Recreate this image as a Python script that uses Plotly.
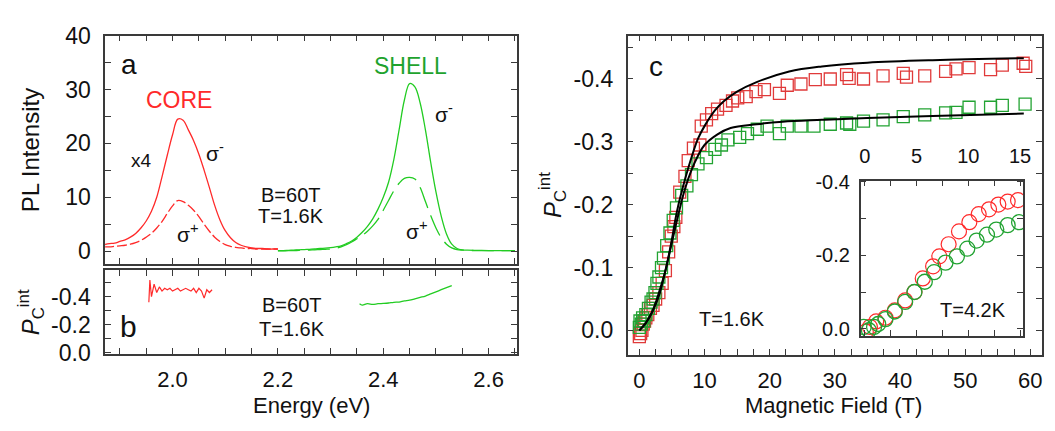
import plotly.graph_objects as go

W, H = 1055, 431

# ---------------- data ----------------
# Panel a: PL spectra (energy in eV, intensity arb. units)
E_core = [1.87, 1.88, 1.89, 1.90, 1.91, 1.92, 1.93, 1.94, 1.95, 1.96, 1.97, 1.98, 1.99, 2.00,
          2.01, 2.02, 2.03, 2.04, 2.05, 2.06, 2.07, 2.08, 2.09, 2.10, 2.11, 2.12, 2.13, 2.14,
          2.15, 2.16, 2.17, 2.18, 2.19, 2.20]
core_sigma_minus = [1.2, 1.4, 1.5, 1.8, 2.1, 2.6, 3.3, 4.3, 5.6, 7.4, 10.0, 13.8, 17.8, 21.6,
                    24.5, 24.3, 22.5, 20.5, 18.0, 15.0, 11.8, 8.5, 5.8, 3.8, 2.5, 1.6, 1.1, 0.8,
                    0.6, 0.5, 0.5, 0.4, 0.4, 0.4]
core_sigma_plus = [0.8, 0.8, 0.9, 1.0, 1.1, 1.3, 1.6, 2.0, 2.6, 3.3, 4.3, 5.5, 7.0, 8.4,
                   9.4, 9.2, 8.5, 7.6, 6.4, 5.0, 3.7, 2.6, 1.8, 1.2, 0.9, 0.7, 0.6, 0.5,
                   0.5, 0.4, 0.4, 0.4, 0.4, 0.4]

E_shell = [2.20, 2.21, 2.22, 2.23, 2.24, 2.25, 2.26, 2.27, 2.28, 2.29, 2.30, 2.31, 2.32, 2.33,
           2.34, 2.35, 2.36, 2.37, 2.38, 2.39, 2.40, 2.41, 2.42, 2.43, 2.44, 2.45, 2.46, 2.47,
           2.48, 2.49, 2.50, 2.51, 2.52, 2.53, 2.54, 2.55, 2.56, 2.58, 2.60, 2.62, 2.65]
shell_sigma_minus = [0.1, 0.1, 0.15, 0.2, 0.25, 0.3, 0.35, 0.4, 0.5, 0.55, 0.65, 0.8, 1.0, 1.4,
                     1.9, 2.6, 3.5, 4.6, 6.0, 7.8, 10.0, 12.8, 17.0, 22.5, 28.0, 31.1, 30.5, 27.5,
                     22.5, 16.5, 11.0, 6.5, 3.2, 1.3, 0.5, 0.25, 0.2, 0.15, 0.1, 0.1, 0.1]
shell_sigma_plus = [0.05, 0.05, 0.1, 0.1, 0.15, 0.15, 0.2, 0.25, 0.3, 0.35, 0.4, 0.55, 0.8, 1.2,
                    1.7, 2.3, 2.9, 3.7, 4.7, 5.9, 7.6, 9.4, 11.2, 12.6, 13.5, 13.7, 13.4, 11.8,
                    9.2, 6.6, 4.3, 2.5, 1.3, 0.6, 0.3, 0.2, 0.15, 0.1, 0.1, 0.1, 0.1]

# Panel b: integrated circular polarization vs energy
E_pol_core = [1.955, 1.957, 1.960, 1.965, 1.970, 1.975, 1.980, 1.985, 1.990, 1.995, 2.000, 2.005,
              2.010, 2.015, 2.020, 2.025, 2.030, 2.035, 2.040, 2.045, 2.050, 2.055, 2.060,
              2.065, 2.070, 2.075]
pol_core = [-0.36, -0.52, -0.40, -0.49, -0.43, -0.47, -0.44, -0.46, -0.45, -0.46, -0.44, -0.45,
            -0.46, -0.44, -0.45, -0.46, -0.45, -0.44, -0.46, -0.43, -0.46, -0.44, -0.39,
            -0.45, -0.43, -0.45]
E_pol_shell = [2.355, 2.36, 2.37, 2.38, 2.39, 2.40, 2.41, 2.42, 2.43, 2.44, 2.45, 2.46, 2.47,
               2.48, 2.49, 2.50, 2.51, 2.52, 2.53]
pol_shell = [-0.35, -0.34, -0.35, -0.345, -0.35, -0.352, -0.355, -0.36, -0.362, -0.37, -0.375,
             -0.385, -0.395, -0.405, -0.42, -0.435, -0.45, -0.465, -0.48]

# Panel c: polarization vs magnetic field, T = 1.6 K
B_core = [0.0, 0.2, 0.4, 0.6, 0.8, 1.0, 1.3, 1.7, 2.1, 2.5, 3.0, 3.5, 4.0, 4.5, 4.9, 5.3, 5.6,
          6.2, 7.0, 7.5, 8.3, 9.3, 9.5, 10.3, 11.1, 12.0, 13.3, 14.3, 15.1, 16.4, 17.9, 19.2,
          21.5, 22.7, 24.8, 27.0, 29.3, 31.8, 32.2, 34.4, 37.4, 40.5, 41.0, 43.8, 47.0, 48.6,
          50.6, 53.9, 55.7, 58.9, 59.3]
P_core = [0.01, 0.005, 0.0, -0.01, -0.015, -0.02, -0.025, -0.035, -0.04, -0.05, -0.06, -0.075,
          -0.095, -0.125, -0.15, -0.165, -0.18, -0.22, -0.245, -0.27, -0.29, -0.295, -0.325,
          -0.335, -0.345, -0.352, -0.358, -0.365, -0.37, -0.372, -0.38, -0.383, -0.377, -0.39,
          -0.392, -0.399, -0.4, -0.407, -0.401, -0.4, -0.405, -0.409, -0.403, -0.405, -0.412,
          -0.416, -0.418, -0.415, -0.422, -0.425, -0.42]
B_shell = [0.0, 0.1, 0.3, 0.5, 0.7, 1.0, 1.4, 1.8, 2.1, 2.4, 2.7, 3.0, 3.4, 3.7, 4.2, 4.7, 5.2,
           5.7, 6.5, 7.3, 8.0, 9.0, 10.3, 11.6, 12.6, 13.6, 15.4, 16.6, 18.1, 19.6, 21.5, 22.7,
           24.8, 26.8, 29.3, 31.8, 32.3, 34.4, 37.4, 40.5, 43.8, 47.0, 48.6, 50.6, 53.9, 55.7,
           59.2]
P_shell = [-0.005, -0.015, -0.01, -0.02, -0.015, -0.025, -0.035, -0.045, -0.05, -0.06, -0.075,
           -0.085, -0.1, -0.115, -0.135, -0.155, -0.175, -0.195, -0.215, -0.23, -0.248, -0.265,
           -0.275, -0.288, -0.295, -0.303, -0.307, -0.313, -0.32, -0.325, -0.313, -0.325,
           -0.325, -0.325, -0.328, -0.33, -0.328, -0.333, -0.335, -0.34, -0.343, -0.346,
           -0.347, -0.355, -0.355, -0.358, -0.36]

# Fit curves
B_fit = [0, 1, 2, 3, 4, 5, 5.5, 6, 7, 8, 9, 10, 11.6, 13, 15, 18, 23, 28, 35, 45, 59]
fit_core = [0, -0.012, -0.03, -0.06, -0.095, -0.145, -0.175, -0.2, -0.24, -0.275, -0.305,
            -0.325, -0.35, -0.365, -0.38, -0.395, -0.412, -0.42, -0.426, -0.43, -0.433]
B_fit2 = [0, 1, 2, 3, 4, 5, 6, 7, 8, 9, 10, 12, 14, 18, 22, 28, 35, 45, 59]
fit_shell = [0, -0.012, -0.03, -0.055, -0.095, -0.14, -0.185, -0.225, -0.255, -0.278, -0.295,
             -0.312, -0.322, -0.328, -0.332, -0.335, -0.338, -0.341, -0.345]

# Inset: T = 4.2 K
B_in_core = [0.1, 0.5, 1.1, 2.0, 2.9, 3.9, 4.8, 5.6, 6.6, 7.2, 8.1, 9.1, 10.1, 11.0, 12.0,
             12.9, 13.8, 14.8]
P_in_core = [0.008, -0.005, -0.02, -0.03, -0.05, -0.077, -0.1, -0.137, -0.17, -0.197, -0.23,
             -0.265, -0.29, -0.312, -0.325, -0.338, -0.346, -0.35]
B_in_shell = [-0.1, 0.4, 0.9, 1.3, 2.0, 2.9, 3.9, 4.8, 5.8, 6.7, 7.8, 8.9, 9.9, 10.8, 11.8,
              12.7, 13.8, 14.9]
P_in_shell = [-0.005, 0.004, -0.005, -0.013, -0.026, -0.047, -0.073, -0.1, -0.128, -0.154,
              -0.18, -0.197, -0.218, -0.24, -0.256, -0.27, -0.282, -0.29]

# Tick labels
a_yticks = [0, 10, 20, 30, 40]
E_ticks = [2.0, 2.2, 2.4, 2.6]
E_ticktext = ["2.0", "2.2", "2.4", "2.6"]
b_yticks = [-0.4, -0.2, 0.0]
b_yticktext = ["-0.4", "-0.2", "0.0"]
c_xticks = [0, 10, 20, 30, 40, 50, 60]
c_yticks = [-0.4, -0.3, -0.2, -0.1, 0.0]
c_yticktext = ["-0.4", "-0.3", "-0.2", "-0.1", "0.0"]
in_xticks = [0, 5, 10, 15]
in_yticks = [-0.4, -0.2, 0.0]
in_yticktext = ["-0.4", "-0.2", "0.0"]

# ---------------- styling ----------------
RED = "#ff2a2a"
GREEN = "#22cc22"
RED_M = "#e03a3a"
GREEN_M = "#22a332"
TXT_GREEN = "#1ea32e"
FONT = "Arial, Liberation Sans, sans-serif"
AX = "#3a3a3a"


def px(x):
    return x / W


def py(y):
    return 1 - y / H


fig = go.Figure()

# Panel a
fig.add_trace(go.Scatter(x=E_core, y=core_sigma_minus, mode="lines", xaxis="x", yaxis="y",
                         line=dict(color=RED, width=1.3, shape="spline")))
fig.add_trace(go.Scatter(x=E_core, y=core_sigma_plus, mode="lines", xaxis="x", yaxis="y",
                         line=dict(color=RED, width=1.3, shape="spline", dash="10px,3px")))
fig.add_trace(go.Scatter(x=E_shell, y=shell_sigma_minus, mode="lines", xaxis="x", yaxis="y",
                         line=dict(color=GREEN, width=1.3, shape="spline")))
fig.add_trace(go.Scatter(x=E_shell, y=shell_sigma_plus, mode="lines", xaxis="x", yaxis="y",
                         line=dict(color=GREEN, width=1.3, shape="spline", dash="22px,8px")))

# Panel b
fig.add_trace(go.Scatter(x=E_pol_core, y=pol_core, mode="lines", xaxis="x2", yaxis="y2",
                         line=dict(color=RED, width=1.2)))
fig.add_trace(go.Scatter(x=E_pol_shell, y=pol_shell, mode="lines", xaxis="x2", yaxis="y2",
                         line=dict(color=GREEN, width=1.3, shape="spline")))

# Panel c
fig.add_trace(go.Scatter(x=B_core, y=P_core, mode="markers", xaxis="x3", yaxis="y3",
                         marker=dict(symbol="square-open", size=12, color=RED_M,
                                     line=dict(width=1.3, color=RED_M))))
fig.add_trace(go.Scatter(x=B_shell, y=P_shell, mode="markers", xaxis="x3", yaxis="y3",
                         marker=dict(symbol="square-open", size=12, color=GREEN_M,
                                     line=dict(width=1.3, color=GREEN_M))))
fig.add_trace(go.Scatter(x=B_fit, y=fit_core, mode="lines", xaxis="x3", yaxis="y3",
                         line=dict(color="black", width=2, shape="spline")))
fig.add_trace(go.Scatter(x=B_fit2, y=fit_shell, mode="lines", xaxis="x3", yaxis="y3",
                         line=dict(color="black", width=2, shape="spline")))

# Inset
fig.add_trace(go.Scatter(x=B_in_core, y=P_in_core, mode="markers", xaxis="x4", yaxis="y4",
                         marker=dict(symbol="circle-open", size=15, color=RED,
                                     line=dict(width=1.2, color=RED))))
fig.add_trace(go.Scatter(x=B_in_shell, y=P_in_shell, mode="markers", xaxis="x4", yaxis="y4",
                         marker=dict(symbol="circle-open", size=15, color=GREEN_M,
                                     line=dict(width=1.3, color=GREEN_M))))


def axis(**kw):
    base = dict(showline=True, linecolor=AX, linewidth=1.5, mirror="ticks", ticks="inside",
                ticklen=6, tickwidth=1.3, tickcolor=AX, showgrid=False, zeroline=False,
                tickfont=dict(family=FONT, size=23, color="#111"), ticklabelstandoff=8)
    base.update(kw)
    return base


XT_FONT = dict(family=FONT, size=22, color="#111")

a_dom_x = [px(105), px(520)]
fig.update_layout(
    width=W, height=H, margin=dict(l=0, r=0, t=0, b=0),
    paper_bgcolor="white", plot_bgcolor="rgba(0,0,0,0)", showlegend=False,
    xaxis=axis(domain=a_dom_x, anchor="y", range=[1.872, 2.653], tickvals=E_ticks,
               showticklabels=False,
               minor=dict(dtick=0.05, tick0=2.0, ticks="inside", ticklen=6, tickcolor=AX)),
    yaxis=axis(domain=[py(266), py(24)], anchor="x", range=[-2.3, 40], tickvals=a_yticks,
               minor=dict(dtick=5, tick0=0, ticks="inside", ticklen=6, tickcolor=AX)),
    xaxis2=axis(domain=a_dom_x, anchor="y2", range=[1.872, 2.653], tickvals=E_ticks,
                ticktext=E_ticktext, ticklabelstandoff=5, tickfont=XT_FONT,
                minor=dict(dtick=0.05, tick0=2.0, ticks="inside", ticklen=6, tickcolor=AX)),
    yaxis2=axis(domain=[py(362), py(273)], anchor="x2", range=[0.01, -0.59],
                tickvals=b_yticks, ticktext=b_yticktext,
                minor=dict(dtick=0.1, tick0=0, ticks="inside", ticklen=6, tickcolor=AX)),
    xaxis3=axis(domain=[px(632), px(1050)], anchor="y3", range=[-1.8, 61.8],
                tickvals=c_xticks, ticklabelstandoff=5, tickfont=XT_FONT,
                minor=dict(dtick=2.5, tick0=0, ticks="inside", ticklen=6, tickcolor=AX)),
    yaxis3=axis(domain=[py(363), py(24)], anchor="x3", range=[0.039, -0.469],
                tickvals=c_yticks, ticktext=c_yticktext,
                minor=dict(dtick=0.05, tick0=0, ticks="inside", ticklen=6, tickcolor=AX)),
    xaxis4=axis(domain=[px(867), px(1031)], anchor="y4", side="top", range=[-0.4, 15.3],
                tickvals=in_xticks, tickfont=dict(family=FONT, size=20, color="#111"),
                ticklabelstandoff=8,
                minor=dict(dtick=2.5, tick0=0, ticks="inside", ticklen=6, tickcolor=AX)),
    yaxis4=axis(domain=[py(343), py(178)], anchor="x4", range=[0.02, -0.403],
                tickvals=in_yticks, ticktext=in_yticktext,
                tickfont=dict(family=FONT, size=20, color="#111"), ticklabelstandoff=5,
                minor=dict(dtick=0.1, tick0=0, ticks="inside", ticklen=6, tickcolor=AX)),
)


def ann(text, x, y, size=20, color="#111", angle=0, xanchor="center", yanchor="middle"):
    fig.add_annotation(text=text, x=px(x), y=py(y), xref="paper", yref="paper",
                       showarrow=False, textangle=angle, xanchor=xanchor, yanchor=yanchor,
                       font=dict(family=FONT, size=size, color=color), borderpad=0)


# axis titles
ann("PL Intensity", 30, 145, size=24, angle=-90)
ann("<i>P</i><sub>C</sub><sup>int</sup>", 30, 318, size=24, angle=-90)
ann("Energy (eV)", 313, 431, size=22, yanchor="bottom")
ann("<i>P</i><sub>C</sub><sup>int</sup>", 556, 193, size=24, angle=-90)
ann("Magnetic Field (T)", 840, 431, size=22, yanchor="bottom")

# panel labels
ann("a", 129, 55, size=28)
ann("b", 129, 333, size=30)
ann("c", 661, 57, size=28)

# panel a texts
ann("CORE", 180, 92, size=23, color=RED)
ann("SHELL", 413, 56, size=23, color=TXT_GREEN)
ann("x4", 142, 157, size=19)
ann("σ<sup>-</sup>", 216, 148, size=21)
ann("σ<sup>+</sup>", 189, 234, size=21)
ann("σ<sup>-</sup>", 447, 106, size=21)
ann("σ<sup>+</sup>", 420, 230, size=21)
ann("B=60T", 292, 193, size=20)
ann("T=1.6K", 292, 215, size=20)

# panel b texts
ann("B=60T", 293, 310, size=20)
ann("T=1.6K", 293, 335, size=20)

# panel c texts
ann("T=1.6K", 737, 325, size=20)
ann("T=4.2K", 980, 315, size=20)

fig.write_html("out.html")
